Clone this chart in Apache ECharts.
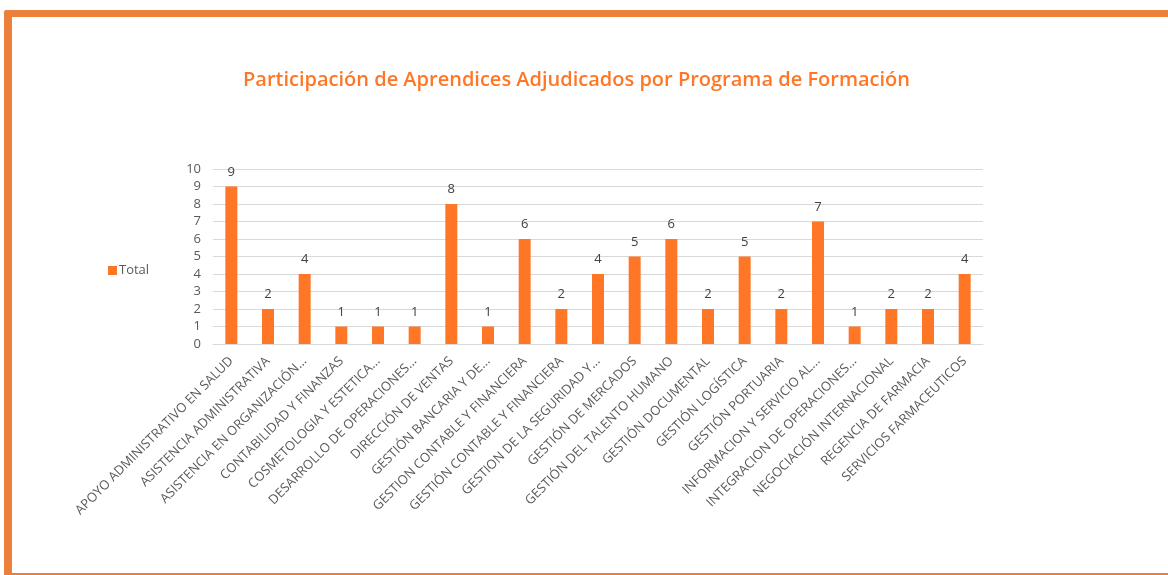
<!DOCTYPE html>
<html>
<head>
<meta charset="utf-8">
<script src="https://cdn.jsdelivr.net/npm/echarts@6/dist/echarts.min.js"></script>
<style>
  html, body { margin: 0; padding: 0; background: #fff; }
  #frame {
    position: absolute; left: 4px; top: 10px; width: 1170px; height: 565px;
    border-left: 8px solid #ec7f3a; border-top: 7px solid #ec7f3a; border-bottom: 2px solid #ec7f3a;
    border-top-left-radius: 3px; box-sizing: border-box;
  }
  #main { position: absolute; left: 0; top: 0; width: 1168px; height: 575px; }
</style>
</head>
<body>
<div id="frame"></div>
<div id="main"></div>
<script>
// programas de formacion
var programas = [
  'APOYO ADMINISTRATIVO EN SALUD',
  'ASISTENCIA ADMINISTRATIVA',
  'ASISTENCIA EN ORGANIZACIÓN...',
  'CONTABILIDAD Y FINANZAS',
  'COSMETOLOGIA Y ESTETICA...',
  'DESARROLLO DE OPERACIONES...',
  'DIRECCIÓN DE VENTAS',
  'GESTIÓN BANCARIA Y DE...',
  'GESTION CONTABLE Y FINANCIERA',
  'GESTIÓN CONTABLE Y FINANCIERA',
  'GESTION DE LA SEGURIDAD Y...',
  'GESTIÓN DE MERCADOS',
  'GESTIÓN DEL TALENTO HUMANO',
  'GESTIÓN DOCUMENTAL',
  'GESTIÓN LOGÍSTICA',
  'GESTIÓN PORTUARIA',
  'INFORMACION Y SERVICIO AL...',
  'INTEGRACION DE OPERACIONES...',
  'NEGOCIACIÓN INTERNACIONAL',
  'REGENCIA DE FARMACIA',
  'SERVICIOS FARMACEUTICOS'
];
var total = [9, 2, 4, 1, 1, 1, 8, 1, 6, 2, 4, 5, 6, 2, 5, 2, 7, 1, 2, 2, 4];

var fuente = 'Open Sans';
var naranja = '#ff7726';

var myChart = echarts.init(document.getElementById('main'));
var option = {
  animation: false,
  backgroundColor: 'transparent',
  title: {
    text: 'Participación de Aprendices Adjudicados por Programa de Formación',
    left: 238,
    top: 65,
    textStyle: { color: naranja, fontFamily: fuente, fontWeight: 600, fontSize: 20 }
  },
  legend: {
    data: ['Total'],
    left: 103,
    top: 259,
    itemWidth: 9,
    itemHeight: 9,
    itemGap: 4,
    icon: 'rect',
    textStyle: { color: '#595959', fontFamily: fuente, fontSize: 13, padding: [0, 0, 0, -3] }
  },
  grid: { left: 213, right: 185, top: 169, bottom: 231, containLabel: false },
  xAxis: {
    type: 'category',
    data: programas,
    axisLine: { lineStyle: { color: '#d9d9d9' } },
    axisTick: { show: false },
    axisLabel: {
      interval: 0,
      rotate: 45,
      margin: 15,
      color: '#595959',
      fontFamily: fuente,
      fontSize: 13
    }
  },
  yAxis: {
    type: 'value',
    min: 0,
    max: 10,
    interval: 1,
    axisLine: { show: false },
    axisTick: { show: false },
    splitLine: { lineStyle: { color: '#d9d9d9' } },
    axisLabel: { color: '#595959', fontFamily: fuente, fontSize: 13, margin: 12 }
  },
  series: [{
    name: 'Total',
    type: 'bar',
    data: total,
    barWidth: 12,
    itemStyle: { color: naranja },
    label: {
      show: true,
      position: 'top',
      distance: 8,
      color: '#404040',
      fontFamily: fuente,
      fontSize: 13
    }
  }]
};
myChart.setOption(option);
</script>
</body>
</html>
